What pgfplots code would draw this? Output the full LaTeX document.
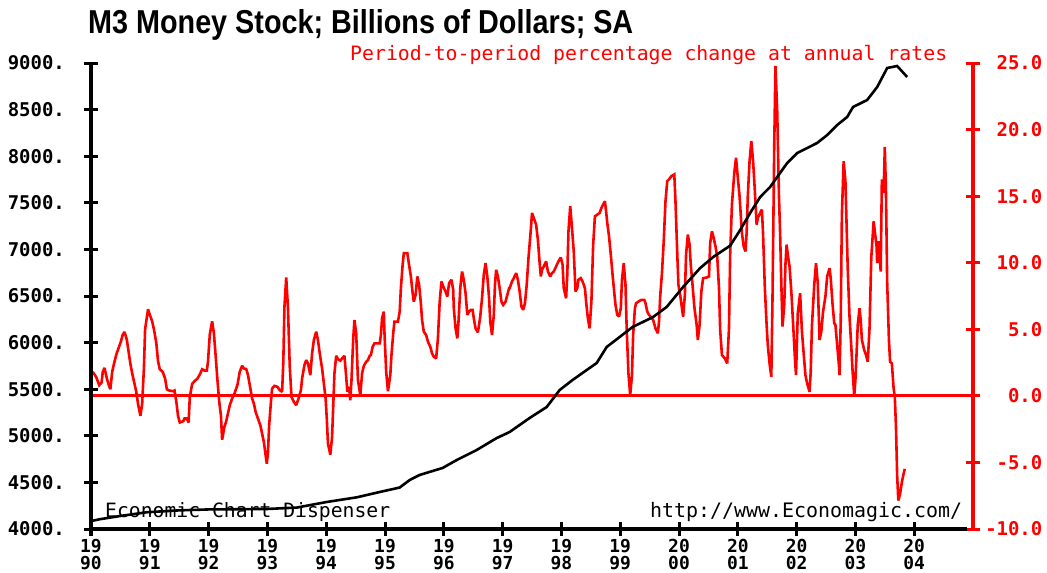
\documentclass[border=0pt]{standalone}
\usepackage{fontspec}
\setmainfont{DejaVu Sans}
\setsansfont{Liberation Sans}
\setmonofont{DejaVu Sans Mono}
\usepackage{graphicx}
\usepackage{pgfplots}
\pgfplotsset{compat=1.18}
\begin{document}
\begin{tikzpicture}
\path[use as bounding box] (0,0) rectangle (1047bp,-573bp);
% ---------- red series: percentage change (right axis) ----------
\begin{axis}[
  at={(91bp,-529bp)}, anchor=south west,
  width=882bp, height=466bp, scale only axis,
  xmin=1990, xmax=2005, ymin=-10, ymax=25,
  axis x line=none, axis y line=right,
  y axis line style={-, red, line width=3.5bp},
  ytick={-10,-5,0,5,10,15,20,25},
  yticklabels={-10.0,-5.0,0.0,5.0,10.0,15.0,20.0,25.0},
  tick align=center, major tick length=15bp,
  every tick/.style={red, line width=3bp},
  yticklabel style={font=\ttfamily\bfseries\fontsize{19}{17}\selectfont, text=red, anchor=east, inner sep=0pt, xshift=62bp},
  clip=false]
\draw[red, line width=3bp] (axis cs:1990,0) -- (axis cs:2005,0);
\addplot[red, line width=2.6bp, line join=miter, miter limit=2] coordinates {
(1990.03,1.8)(1990.09,1.4)(1990.14,0.8)(1990.18,1.0)(1990.20,1.8)(1990.23,2.1)(1990.27,1.3)(1990.31,0.7)(1990.33,0.5)(1990.36,1.8)
(1990.39,2.4)(1990.43,3.1)(1990.47,3.6)(1990.51,4.1)(1990.54,4.6)(1990.57,4.8)(1990.61,4.2)(1990.64,3.3)(1990.67,2.4)(1990.70,1.7)
(1990.73,1.1)(1990.77,0.3)(1990.80,-0.6)(1990.84,-1.5)(1990.87,-0.6)(1990.90,2.1)(1990.92,5.0)(1990.97,6.5)(1991.00,6.1)(1991.04,5.6)
(1991.07,5.0)(1991.11,4.0)(1991.14,2.6)(1991.17,2.0)(1991.22,1.8)(1991.26,1.3)(1991.29,0.5)(1991.33,0.4)(1991.40,0.35)(1991.42,0.4)
(1991.45,-0.4)(1991.48,-1.5)(1991.51,-2.0)(1991.57,-1.9)(1991.59,-1.7)(1991.63,-1.7)(1991.66,-2.0)(1991.68,-0.1)(1991.72,0.9)(1991.76,1.1)
(1991.81,1.3)(1991.85,1.6)(1991.89,2.0)(1991.93,1.9)(1991.97,1.9)(1991.99,2.6)(1992.02,4.6)(1992.06,5.6)(1992.09,4.7)(1992.12,3.0)
(1992.15,1.2)(1992.18,-0.4)(1992.21,-1.5)(1992.23,-3.3)(1992.27,-2.3)(1992.30,-1.9)(1992.33,-1.3)(1992.36,-0.7)
(1992.40,-0.2)(1992.44,0.18)(1992.49,0.81)(1992.53,1.81)(1992.57,2.26)(1992.60,2.06)(1992.64,2.01)(1992.67,1.56)(1992.70,0.81)(1992.74,-0.2)
(1992.77,-0.58)(1992.80,-1.21)(1992.84,-1.71)(1992.88,-2.21)(1992.91,-2.84)(1992.94,-3.47)(1992.97,-4.47)(1992.99,-5.10)(1993.01,-4.22)(1993.03,-2.21)
(1993.06,-0.45)(1993.08,0.55)(1993.12,0.75)(1993.17,0.68)(1993.21,0.43)(1993.25,0.30)(1993.27,2.44)(1993.29,6.71)(1993.32,8.89)(1993.35,6.58)
(1993.38,2.19)(1993.41,-0.08)(1993.45,-0.45)(1993.49,-0.70)(1993.53,-0.20)(1993.57,0.43)(1993.59,1.31)(1993.63,2.31)(1993.66,2.69)(1993.69,2.44)
(1993.73,1.56)(1993.76,3.19)(1993.79,4.19)(1993.83,4.82)(1993.86,4.19)(1993.89,3.19)(1993.93,2.06)(1993.96,0.93)(1993.99,-0.20)(1994.01,-1.71)
(1994.03,-3.59)(1994.07,-4.42)(1994.10,-3.09)(1994.12,-0.70)(1994.14,1.68)(1994.17,3.01)(1994.20,2.76)(1994.24,2.64)(1994.27,2.81)(1994.31,3.01)
(1994.34,1.43)(1994.36,0.30)(1994.39,0.68)(1994.41,-0.33)(1994.43,1.18)(1994.46,4.32)(1994.48,5.70)(1994.51,4.70)(1994.54,1.18)(1994.58,0.05)
(1994.61,1.68)(1994.64,2.26)(1994.68,2.56)(1994.71,2.69)(1994.74,3.01)
(1994.76,3.07)(1994.79,3.69)(1994.82,3.94)(1994.91,3.94)(1994.93,4.57)(1994.95,5.83)(1994.98,6.33)(1994.99,4.82)(1995.02,1.81)(1995.05,0.35)
(1995.09,1.56)(1995.11,3.07)(1995.14,4.70)(1995.16,5.58)(1995.22,5.58)(1995.25,6.33)(1995.27,8.09)(1995.30,9.85)(1995.32,10.72)(1995.38,10.72)
(1995.40,10.10)(1995.44,8.97)(1995.47,7.71)(1995.49,7.08)(1995.52,7.58)(1995.55,8.97)(1995.58,8.34)(1995.61,6.96)(1995.63,5.70)(1995.66,4.82)
(1995.70,4.57)(1995.73,4.07)(1995.77,3.69)(1995.80,3.19)(1995.83,2.94)(1995.87,2.81)(1995.90,4.32)(1995.93,7.08)(1995.96,8.59)(1995.99,8.21)
(1996.03,7.84)(1996.06,7.46)(1996.09,8.46)(1996.13,8.72)(1996.16,7.96)(1996.17,6.58)(1996.20,5.07)(1996.23,4.32)(1996.25,5.58)(1996.28,8.09)
(1996.31,9.34)(1996.34,8.72)(1996.37,7.71)(1996.40,6.08)(1996.43,6.33)(1996.46,6.46)(1996.49,6.46)(1996.51,5.83)(1996.54,5.07)(1996.58,4.77)
(1996.62,5.96)(1996.65,7.33)(1996.68,9.10)(1996.71,9.97)(1996.74,8.97)(1996.77,7.33)(1996.79,5.58)(1996.82,4.57)(1996.85,6.08)(1996.87,8.34)
(1996.89,9.47)(1996.92,8.97)(1996.95,8.09)(1996.98,7.08)(1997.01,6.83)(1997.05,7.08)(1997.08,7.58)(1997.11,8.09)
(1997.12,8.09)(1997.16,8.59)(1997.19,8.84)(1997.23,9.22)(1997.26,8.72)(1997.29,7.84)(1997.32,6.71)(1997.35,6.46)(1997.38,6.96)(1997.41,8.34)
(1997.44,10.35)(1997.48,12.49)(1997.50,13.74)(1997.53,13.36)(1997.57,12.86)(1997.60,11.73)(1997.63,9.97)(1997.65,8.97)(1997.67,9.47)(1997.70,9.72)
(1997.74,10.10)(1997.77,9.34)(1997.81,8.97)(1997.84,9.22)(1997.87,9.34)(1997.91,9.72)(1997.95,10.10)(1997.99,10.40)(1998.02,9.85)(1998.04,8.09)
(1998.08,7.33)(1998.10,9.10)(1998.12,12.36)(1998.15,14.24)(1998.18,12.61)(1998.21,10.85)(1998.24,7.84)(1998.27,8.09)(1998.29,8.72)(1998.33,8.84)
(1998.36,8.59)(1998.40,8.09)(1998.42,7.08)(1998.45,5.83)(1998.48,5.07)(1998.51,7.08)(1998.54,11.35)(1998.57,13.49)(1998.61,13.61)(1998.65,13.74)
(1998.68,14.11)(1998.71,14.37)(1998.74,14.62)(1998.76,13.87)(1998.78,12.99)(1998.81,11.98)(1998.84,10.60)(1998.87,9.10)(1998.90,7.71)(1998.92,6.83)
(1998.95,6.08)(1998.98,5.96)(1999.01,6.58)(1999.03,8.72)(1999.06,9.97)(1999.09,8.34)(1999.11,5.07)(1999.14,1.68)(1999.17,0.05)(1999.20,1.56)
(1999.22,4.57)(1999.25,6.58)(1999.27,6.96)(1999.31,7.08)(1999.36,7.21)(1999.41,7.21)(1999.43,6.96)(1999.46,6.33)(1999.49,6.08)
(1999.52,5.95)(1999.56,5.70)(1999.60,5.07)(1999.64,4.70)(1999.66,5.58)(1999.68,7.46)(1999.71,9.22)(1999.74,11.60)(1999.77,14.62)(1999.80,16.13)
(1999.83,16.26)(1999.87,16.50)(1999.92,16.63)(1999.94,14.62)(1999.97,10.72)(1999.99,8.34)(2000.02,7.59)(2000.05,6.58)(2000.07,5.95)(2000.10,7.59)
(2000.12,10.60)(2000.15,12.11)(2000.18,11.36)(2000.20,9.85)(2000.23,8.34)(2000.26,6.71)(2000.30,5.33)(2000.32,4.20)(2000.35,5.33)(2000.38,7.84)
(2000.41,8.84)(2000.47,8.89)(2000.51,8.97)(2000.53,11.48)(2000.56,12.36)(2000.59,11.86)(2000.62,11.23)(2000.65,10.47)(2000.68,8.09)(2000.70,4.95)
(2000.73,3.07)(2000.78,2.81)(2000.82,2.44)(2000.85,5.07)(2000.87,10.60)(2000.90,14.37)(2000.94,16.75)(2000.97,17.88)(2000.99,16.88)(2001.03,14.99)
(2001.05,13.61)(2001.07,12.23)(2001.10,11.23)(2001.13,10.85)(2001.15,12.23)(2001.17,14.99)(2001.20,17.63)(2001.23,19.14)(2001.26,17.63)(2001.29,15.37)
(2001.32,12.86)(2001.34,13.36)(2001.38,13.74)(2001.41,13.99)(2001.43,12.11)(2001.46,8.09)(2001.49,5.33)(2001.51,3.82)(2001.54,2.44)(2001.57,1.43)
(2001.59,7.33)(2001.62,18.89)(2001.64,24.79)(2001.67,21.40)(2001.70,14.99)(2001.72,12.11)(2001.74,8.46)(2001.76,5.20)(2001.79,6.83)(2001.81,9.85)
(2001.83,11.36)(2001.85,10.60)
(2001.88,9.72)(2001.91,7.84)(2001.94,5.45)(2001.97,2.94)(2001.99,1.56)(2002.02,6.20)(2002.06,7.71)(2002.09,4.87)(2002.12,3.19)(2002.15,1.56)
(2002.18,0.93)(2002.22,0.30)(2002.24,1.81)(2002.26,5.20)(2002.30,8.34)(2002.33,9.97)(2002.36,8.46)(2002.39,4.20)(2002.42,4.82)(2002.45,6.33)
(2002.49,7.46)(2002.52,8.97)(2002.56,9.59)(2002.58,8.84)(2002.61,6.96)(2002.64,5.45)(2002.66,5.33)(2002.69,3.82)(2002.72,2.31)(2002.73,1.56)
(2002.75,5.58)(2002.77,13.61)(2002.80,17.63)(2002.83,16.13)(2002.85,12.86)(2002.87,9.47)(2002.90,5.95)(2002.93,3.69)(2002.95,2.01)(2002.98,0.0)
(2003.00,1.18)(2003.02,3.19)(2003.04,5.33)(2003.07,6.58)(2003.09,5.70)(2003.11,4.20)(2003.15,3.44)(2003.18,3.07)(2003.21,2.56)(2003.24,5.07)
(2003.27,10.40)(2003.31,13.11)(2003.33,12.36)(2003.36,11.23)(2003.37,9.97)(2003.40,11.61)(2003.43,9.34)(2003.45,16.25)(2003.48,15.24)(2003.50,18.69)
(2003.52,15.24)(2003.54,8.59)(2003.57,4.20)(2003.59,2.56)(2003.62,2.44)(2003.65,0.55)(2003.67,-0.08)(2003.69,-2.34)(2003.71,-5.98)(2003.73,-7.86)
(2003.76,-7.36)(2003.79,-6.48)(2003.82,-5.85)(2003.84,-5.48)
};
\end{axis}
% ---------- black series: M3 level (left axis) ----------
\begin{axis}[
  at={(91bp,-529bp)}, anchor=south west,
  width=882bp, height=466bp, scale only axis,
  xmin=1990, xmax=2005, ymin=4000, ymax=9000,
  axis x line=bottom, axis y line=left,
  axis line style={-, black, line width=3.5bp},
  x axis line style={shorten >=6bp},
  xtick={1990,1991,...,2004},
  xticklabels={{19\\90},{19\\91},{19\\92},{19\\93},{19\\94},{19\\95},{19\\96},{19\\97},{19\\98},{19\\99},{20\\00},{20\\01},{20\\02},{20\\03},{20\\04}},
  ytick={4000,4500,...,9000},
  yticklabels={4000.,4500.,5000.,5500.,6000.,6500.,7000.,7500.,8000.,8500.,9000.},
  tick align=center, major tick length=14bp,
  every tick/.style={black, line width=3bp},
  yticklabel style={font=\ttfamily\bfseries\fontsize{19}{17}\selectfont, anchor=east, inner sep=0pt, xshift=-19bp},
  xticklabel style={font=\ttfamily\bfseries\fontsize{18}{17}\selectfont, align=center, anchor=north, inner sep=0pt, yshift=-3bp},
  clip=false]
\addplot[black, line width=2.6bp] coordinates {
(1990.00,4085)(1990.15,4105)(1990.50,4140)(1990.95,4180)(1991.50,4200)(1992.00,4210)(1992.50,4212)(1993.00,4215)(1993.50,4230)(1994.01,4290)
(1994.52,4340)(1994.91,4397)(1995.25,4445)(1995.42,4526)(1995.59,4580)(1995.98,4655)(1996.22,4740)(1996.56,4848)(1996.90,4976)(1997.12,5041)
(1997.46,5191)(1997.75,5309)(1997.97,5491)(1998.19,5599)(1998.60,5781)(1998.77,5953)(1998.99,6060)(1999.21,6167)(1999.56,6275)(1999.79,6382)
(2000.07,6597)(2000.36,6800)(2000.58,6918)(2000.87,7040)(2001.04,7208)(2001.21,7391)(2001.38,7562)(2001.55,7670)(2001.67,7777)(2001.84,7927)
(2002.01,8034)(2002.18,8088)(2002.35,8142)(2002.52,8227)(2002.69,8335)(2002.86,8421)(2002.96,8528)(2003.20,8603)(2003.37,8742)(2003.54,8946)
(2003.71,8968)(2003.88,8850)
};
\end{axis}
% ---------- texts ----------
\node[anchor=base west, inner sep=0pt] at (88bp,-33.3bp) {\resizebox{545bp}{24bp}{\sffamily\bfseries M3 Money Stock; Billions of Dollars; SA}};
\node[anchor=base west, inner sep=0pt, text=red] at (350bp,-60bp) {\resizebox{597bp}{!}{\ttfamily Period-to-period percentage change at annual rates}};
\node[anchor=base west, inner sep=0pt] at (105bp,-517bp) {\resizebox{285bp}{!}{\ttfamily Economic Chart Dispenser}};
\node[anchor=base west, inner sep=0pt] at (650bp,-517bp) {\resizebox{312bp}{!}{\ttfamily http://www.Economagic.com/}};
\end{tikzpicture}
\end{document}
